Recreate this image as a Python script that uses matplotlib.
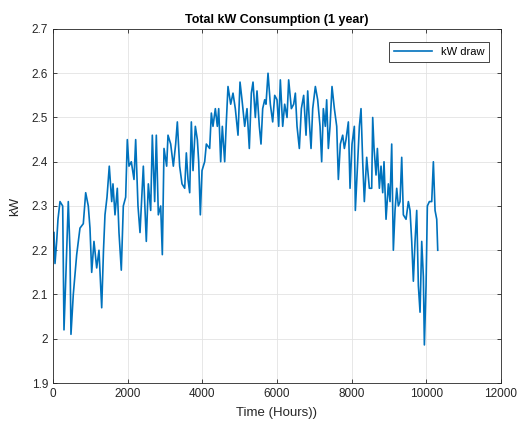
import matplotlib
matplotlib.use('Agg')
import matplotlib.pyplot as plt

# 读取自参考图的数据点 (小时, kW)
hours = [
    27, 54, 99, 134, 188, 260, 295, 348, 410, 455, 482, 544, 635, 723, 812,
    876, 946, 991, 1037, 1098, 1171, 1232, 1305, 1353, 1393, 1447, 1508, 1573,
    1607, 1661, 1723, 1768, 1830, 1884, 1947, 1991, 2036, 2098, 2170, 2215,
    2277, 2331, 2420, 2456, 2500, 2554, 2617, 2661, 2724, 2768, 2822, 2885,
    2929, 2974, 3045, 3081, 3153, 3224, 3286, 3331, 3393, 3456, 3528, 3572,
    3617, 3662, 3706, 3751, 3813, 3867, 3903, 3947, 3992, 4063, 4108, 4197,
    4242, 4286, 4349, 4402, 4439, 4492, 4536, 4599, 4643, 4688, 4760, 4822,
    4884, 4956, 5010, 5063, 5135, 5197, 5259, 5313, 5358, 5420, 5465, 5527,
    5572, 5617, 5671, 5706, 5760, 5822, 5885, 5939, 6001, 6046, 6090, 6153,
    6206, 6269, 6313, 6385, 6447, 6492, 6537, 6599, 6653, 6715, 6778, 6823,
    6867, 6912, 6957, 7028, 7090, 7153, 7197, 7242, 7295, 7331, 7376, 7421,
    7474, 7537, 7600, 7644, 7697, 7760, 7805, 7849, 7912, 7957, 8010, 8072,
    8099, 8162, 8207, 8251, 8296, 8340, 8403, 8474, 8537, 8564, 8600, 8653,
    8689, 8742, 8787, 8832, 8867, 8921, 8983, 9028, 9073, 9117, 9162, 9207,
    9251, 9296, 9341, 9385, 9457, 9519, 9564, 9609, 9653, 9698, 9743, 9787,
    9832, 9877, 9921, 9948, 9993, 10028, 10082, 10145, 10189, 10234, 10279,
    10306,
]
kw = [
    2.24, 2.17, 2.22, 2.27, 2.31, 2.30, 2.02, 2.15, 2.31, 2.20, 2.01, 2.10,
    2.19, 2.25, 2.26, 2.33, 2.30, 2.25, 2.15, 2.22, 2.16, 2.20, 2.07, 2.20,
    2.28, 2.32, 2.39, 2.31, 2.35, 2.28, 2.34, 2.24, 2.155, 2.30, 2.32, 2.45,
    2.39, 2.40, 2.36, 2.45, 2.30, 2.24, 2.39, 2.31, 2.22, 2.35, 2.29, 2.46,
    2.31, 2.46, 2.28, 2.30, 2.19, 2.43, 2.39, 2.46, 2.44, 2.39, 2.44, 2.49,
    2.39, 2.35, 2.34, 2.42, 2.36, 2.33, 2.49, 2.38, 2.48, 2.45, 2.40, 2.28,
    2.38, 2.40, 2.44, 2.43, 2.51, 2.48, 2.52, 2.48, 2.52, 2.40, 2.48, 2.40,
    2.49, 2.57, 2.53, 2.555, 2.52, 2.46, 2.58, 2.54, 2.48, 2.52, 2.43, 2.555,
    2.58, 2.50, 2.56, 2.48, 2.44, 2.52, 2.54, 2.53, 2.60, 2.53, 2.49, 2.55,
    2.54, 2.48, 2.585, 2.48, 2.53, 2.50, 2.585, 2.52, 2.53, 2.555, 2.48, 2.43,
    2.52, 2.55, 2.46, 2.56, 2.49, 2.43, 2.52, 2.57, 2.54, 2.48, 2.40, 2.52,
    2.48, 2.54, 2.43, 2.48, 2.57, 2.52, 2.48, 2.36, 2.44, 2.46, 2.43, 2.45,
    2.49, 2.34, 2.44, 2.48, 2.29, 2.40, 2.48, 2.52, 2.40, 2.31, 2.41, 2.34,
    2.34, 2.50, 2.43, 2.37, 2.43, 2.34, 2.39, 2.33, 2.40, 2.27, 2.35, 2.31,
    2.44, 2.20, 2.29, 2.34, 2.30, 2.31, 2.41, 2.28, 2.27, 2.31, 2.29, 2.22,
    2.13, 2.22, 2.29, 2.12, 2.06, 2.22, 2.14, 1.986, 2.12, 2.30, 2.31, 2.31,
    2.40, 2.29, 2.27, 2.20,
]
x_ticks = [0, 2000, 4000, 6000, 8000, 10000, 12000]
y_ticks = [1.9, 2.0, 2.1, 2.2, 2.3, 2.4, 2.5, 2.6, 2.7]
y_tick_labels = ['1.9', '2', '2.1', '2.2', '2.3', '2.4', '2.5', '2.6', '2.7']

plt.rcParams['font.family'] = ['Liberation Sans', 'DejaVu Sans']
axis_color = '#262626'

fig = plt.figure(figsize=(5.23, 4.30), dpi=100, facecolor='white')
ax = fig.add_axes([0.1013, 0.1093, 0.8566, 0.8233])

ax.plot(hours, kw, color='#0072BD', linewidth=1.2, label='kW draw')

ax.set_xlim(0, 12000)
ax.set_ylim(1.9, 2.7)
ax.set_xticks(x_ticks)
ax.set_yticks(y_ticks)
ax.set_yticklabels(y_tick_labels)

ax.grid(True, color='#e3e3e3', linewidth=0.6)
ax.set_axisbelow(True)

for side in ax.spines.values():
    side.set_color(axis_color)
    side.set_linewidth(0.6)
ax.tick_params(direction='in', length=3, width=0.6, colors=axis_color,
               labelsize=8.5, top=True, right=True)

ax.set_title('Total kW Consumption (1 year)', fontsize=9, fontweight='bold',
             color='black', pad=4)
ax.set_xlabel('Time (Hours))', fontsize=9.5, color=axis_color, labelpad=5)
ax.set_ylabel('kW', fontsize=9.5, color=axis_color, labelpad=8)

leg = ax.legend(loc='upper right', fontsize=8, fancybox=False,
                edgecolor=axis_color, framealpha=1, handlelength=3.4,
                borderpad=0.45, bbox_to_anchor=(0.986, 0.98))
leg.get_frame().set_linewidth(0.6)

fig.savefig('out.png', dpi=100, facecolor='white')
